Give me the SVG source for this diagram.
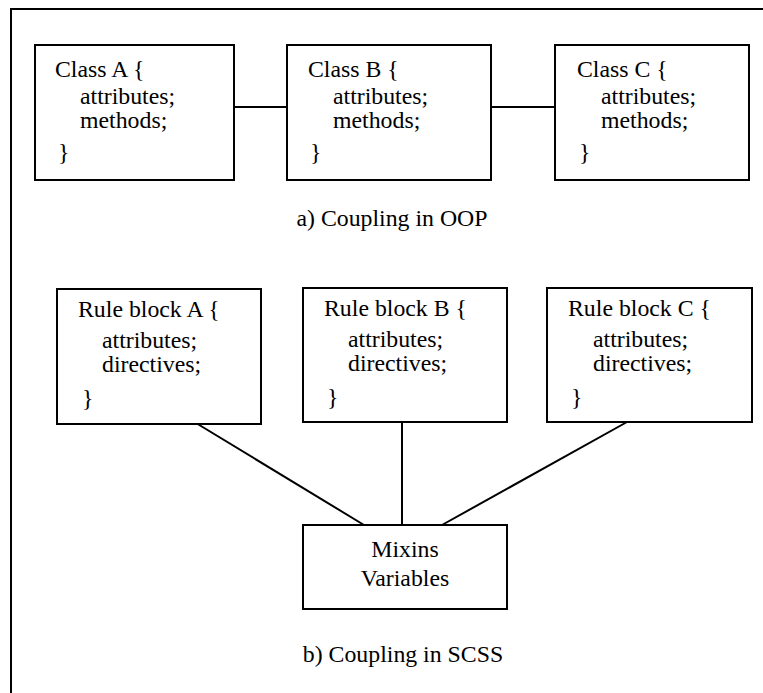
<svg xmlns="http://www.w3.org/2000/svg" width="763" height="693" viewBox="0 0 763 693">
<style>
.box{fill:#fff;stroke:#000;stroke-width:2}
.ln{stroke:#000;stroke-width:2;fill:none}
text{font-family:"Liberation Serif","Times New Roman",serif;font-size:23.8px;fill:#000}
.c{text-anchor:middle}
</style>
<rect x="0" y="0" width="763" height="693" fill="#fff"/>
<rect x="11" y="9" width="780" height="720" fill="none" stroke="#000" stroke-width="2"/>
<g id="connectors">
<line class="ln" x1="234" y1="107" x2="287" y2="107"/>
<line class="ln" x1="491" y1="107" x2="555" y2="107"/>
<line class="ln" x1="196" y1="423" x2="364" y2="525"/>
<line class="ln" x1="402" y1="422" x2="402" y2="525"/>
<line class="ln" x1="627" y1="422" x2="442" y2="525"/>
</g>
<g id="classA">
<rect class="box" x="35" y="45" width="199" height="135"/>
<text x="55" y="77">Class A {</text>
<text x="80" y="104">attributes;</text>
<text x="80" y="128">methods;</text>
<text x="58" y="160">}</text>
</g>
<g id="classB">
<rect class="box" x="287" y="45" width="204" height="135"/>
<text x="308" y="77">Class B {</text>
<text x="333" y="104">attributes;</text>
<text x="333" y="128">methods;</text>
<text x="310" y="160">}</text>
</g>
<g id="classC">
<rect class="box" x="555" y="45" width="194" height="135"/>
<text x="577" y="77">Class C {</text>
<text x="601" y="104">attributes;</text>
<text x="601" y="128">methods;</text>
<text x="579" y="160">}</text>
</g>
<text id="captionA" class="c" x="392" y="226">a) Coupling in OOP</text>
<g id="ruleA">
<rect class="box" x="57" y="289" width="204" height="135"/>
<text x="78" y="317">Rule block A {</text>
<text x="102" y="348">attributes;</text>
<text x="102" y="372">directives;</text>
<text x="82" y="406">}</text>
</g>
<g id="ruleB">
<rect class="box" x="303" y="288" width="204" height="134"/>
<text x="324" y="316">Rule block B {</text>
<text x="348" y="347">attributes;</text>
<text x="348" y="371">directives;</text>
<text x="327" y="405">}</text>
</g>
<g id="ruleC">
<rect class="box" x="547" y="288" width="205" height="134"/>
<text x="568" y="316">Rule block C {</text>
<text x="593" y="347">attributes;</text>
<text x="593" y="371">directives;</text>
<text x="571" y="405">}</text>
</g>
<g id="mixins">
<rect class="box" x="303" y="525" width="204" height="84"/>
<text class="c" x="405" y="557">Mixins</text>
<text class="c" x="405" y="586">Variables</text>
</g>
<text id="captionB" class="c" x="403" y="662">b) Coupling in SCSS</text>
</svg>
